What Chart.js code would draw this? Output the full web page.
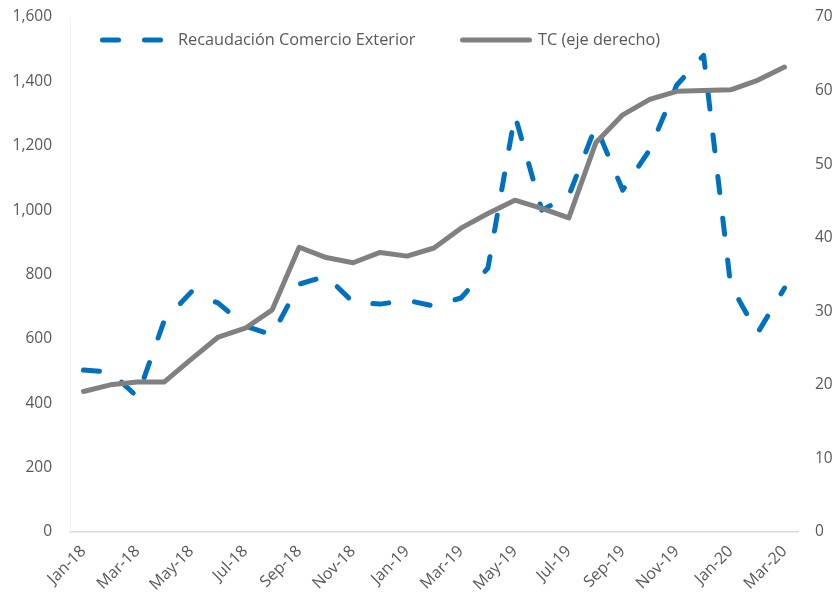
<!DOCTYPE html>
<html>
<head>
<meta charset="utf-8">
<script src="https://cdn.jsdelivr.net/npm/chart.js@4/dist/chart.umd.min.js"></script>
<style>
  html, body { margin: 0; padding: 0; background: #ffffff; }
  #wrap { width: 838px; height: 596px; }
</style>
</head>
<body>
<div id="wrap"><canvas id="c" width="838" height="596"></canvas></div>
<script>
const categories = ["Jan-18","Feb-18","Mar-18","Apr-18","May-18","Jun-18","Jul-18","Aug-18","Sep-18","Oct-18","Nov-18","Dec-18",
  "Jan-19","Feb-19","Mar-19","Apr-19","May-19","Jun-19","Jul-19","Aug-19","Sep-19","Oct-19","Nov-19","Dec-19",
  "Jan-20","Feb-20","Mar-20"];
const recaudacion = [503, 497, 420, 658, 746, 711, 640, 612, 770, 795, 714, 708,
  720, 702, 727, 820, 1295, 1000, 1045, 1261, 1062, 1188, 1388, 1481,
  767, 618, 758];
const tc = [19.1, 20.0, 20.4, 20.4, 23.5, 26.5, 27.7, 30.2, 38.7, 37.3, 36.6, 38.0,
  37.5, 38.6, 41.3, 43.3, 45.1, 44.0, 42.7, 52.9, 56.7, 58.8, 59.9, 60.0,
  60.1, 61.4, 63.2];
const leftTicks = [0, 200, 400, 600, 800, 1000, 1200, 1400, 1600];
const rightTicks = [0, 10, 20, 30, 40, 50, 60, 70];
const seriesNames = ["Recaudación Comercio Exterior", "TC (eje derecho)"];

Chart.defaults.font.family = "'Open Sans', 'Noto Sans', sans-serif";
Chart.defaults.font.size = 15.5;
Chart.defaults.color = "#595959";

const legendPlugin = {
  id: "customLegend",
  afterDraw(chart) {
    const ctx = chart.ctx;
    const ds = chart.data.datasets;
    const items = [
      { d: ds[0], x0: 102.5, x1: 162.5, tx: 178 },
      { d: ds[1], x0: 462.5, x1: 529.5, tx: 538 }
    ];
    const y = 40;
    ctx.save();
    items.forEach(it => {
      ctx.beginPath();
      ctx.lineWidth = it.d.borderWidth;
      ctx.strokeStyle = it.d.borderColor;
      ctx.lineCap = "round";
      ctx.setLineDash(it.d.borderDash || []);
      ctx.moveTo(it.x0, y);
      ctx.lineTo(it.x1, y);
      ctx.stroke();
      ctx.setLineDash([]);
      ctx.fillStyle = "#595959";
      ctx.font = "16.3px 'Open Sans', 'Noto Sans', sans-serif";
      ctx.textBaseline = "middle";
      ctx.textAlign = "left";
      ctx.fillText(it.d.label, it.tx, y);
    });
    ctx.restore();
  }
};

new Chart(document.getElementById("c"), {
  type: "line",
  data: {
    labels: categories,
    datasets: [
      {
        label: seriesNames[0],
        data: recaudacion,
        yAxisID: "y",
        borderColor: "#0070C0",
        backgroundColor: "#0070C0",
        borderWidth: 5,
        borderDash: [16, 26],
        borderCapStyle: "round",
        borderJoinStyle: "round",
        pointRadius: 0,
        tension: 0,
        order: 2
      },
      {
        label: seriesNames[1],
        data: tc,
        yAxisID: "y1",
        borderColor: "#808080",
        backgroundColor: "#808080",
        borderWidth: 5,
        borderCapStyle: "round",
        borderJoinStyle: "round",
        pointRadius: 0,
        tension: 0,
        order: 1
      }
    ]
  },
  options: {
    responsive: false,
    animation: false,
    layout: { padding: { top: 17, left: 0, right: 0, bottom: 0 } },
    plugins: {
      legend: { display: false },
      tooltip: { enabled: false }
    },
    scales: {
      x: {
        type: "category",
        offset: true,
        grid: { display: false, drawTicks: false },
        border: { display: true, color: "#D9D9D9", width: 1.5 },
        ticks: {
          autoSkip: false,
          minRotation: 45,
          maxRotation: 45,
          padding: 10,
          color: "#595959",
          font: { size: 16 },
          callback: function(val, idx) { return idx % 2 === 0 ? this.getLabelForValue(val) : null; }
        },
        afterFit: s => { s.height = 64; }
      },
      y: {
        position: "left",
        min: leftTicks[0],
        max: leftTicks[leftTicks.length - 1],
        grid: { display: false, drawTicks: false },
        border: { display: true, color: "#F2F2F2", width: 1 },
        afterBuildTicks: s => { s.ticks = leftTicks.map(v => ({ value: v })); },
        ticks: {
          padding: 18,
          color: "#595959",
          callback: v => Number(v).toLocaleString("en-US")
        },
        afterFit: s => { s.width = 70; s.paddingTop = 0; s.paddingBottom = 0; }
      },
      y1: {
        position: "right",
        min: rightTicks[0],
        max: rightTicks[rightTicks.length - 1],
        grid: { display: false, drawTicks: false },
        border: { display: false },
        afterBuildTicks: s => { s.ticks = rightTicks.map(v => ({ value: v })); },
        ticks: {
          padding: 17,
          color: "#595959",
          callback: v => String(v)
        },
        afterFit: s => { s.width = 40; s.paddingTop = 0; s.paddingBottom = 0; }
      }
    }
  },
  plugins: [legendPlugin]
});
</script>
</body>
</html>
